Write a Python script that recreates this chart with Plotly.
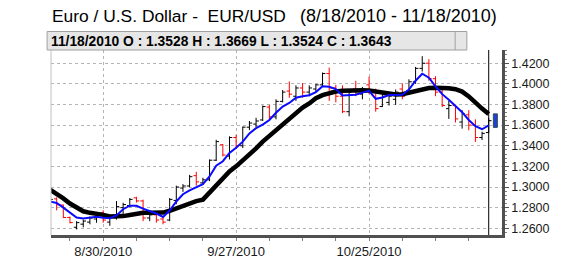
import plotly.graph_objects as go
from datetime import date

dates = [
    "2010-08-18", "2010-08-19", "2010-08-20", "2010-08-23", "2010-08-24", "2010-08-25", "2010-08-26", "2010-08-27",
    "2010-08-30", "2010-08-31", "2010-09-01", "2010-09-02", "2010-09-03", "2010-09-06", "2010-09-07", "2010-09-08",
    "2010-09-09", "2010-09-10", "2010-09-13", "2010-09-14", "2010-09-15", "2010-09-16", "2010-09-17", "2010-09-20",
    "2010-09-21", "2010-09-22", "2010-09-23", "2010-09-24", "2010-09-27", "2010-09-28", "2010-09-29", "2010-09-30",
    "2010-10-01", "2010-10-04", "2010-10-05", "2010-10-06", "2010-10-07", "2010-10-08", "2010-10-11", "2010-10-12",
    "2010-10-13", "2010-10-14", "2010-10-15", "2010-10-18", "2010-10-19", "2010-10-20", "2010-10-21", "2010-10-22",
    "2010-10-25", "2010-10-26", "2010-10-27", "2010-10-28", "2010-10-29", "2010-11-01", "2010-11-02", "2010-11-03",
    "2010-11-04", "2010-11-05", "2010-11-08", "2010-11-09", "2010-11-10", "2010-11-11", "2010-11-12", "2010-11-15",
    "2010-11-16", "2010-11-17", "2010-11-18",
]

opens = [
    1.2850, 1.2885, 1.2825, 1.2705, 1.2610, 1.2640, 1.2660, 1.2690, 1.2750, 1.2660,
    1.2700, 1.2800, 1.2820, 1.2895, 1.2865, 1.2700, 1.2730, 1.2690, 1.2680, 1.2870,
    1.2990, 1.3010, 1.3110, 1.3040, 1.3070, 1.3260, 1.3410, 1.3300, 1.3480, 1.3400,
    1.3580, 1.3610, 1.3650, 1.3775, 1.3680, 1.3830, 1.3930, 1.3880, 1.3960, 1.3920,
    1.3950, 1.3990, 1.4100, 1.3960, 1.3880, 1.3730, 1.3950, 1.3900, 1.3990, 1.3940,
    1.3780, 1.3820, 1.3850, 1.3950, 1.3930, 1.4020, 1.4150, 1.4200, 1.4050, 1.3920,
    1.3760, 1.3790, 1.3630, 1.3700, 1.3600, 1.3480, 1.3528,
]
highs = [
    1.2900, 1.2900, 1.2830, 1.2714, 1.2669, 1.2684, 1.2714, 1.2759, 1.2774, 1.2729,
    1.2864, 1.2848, 1.2893, 1.2905, 1.2878, 1.2759, 1.2744, 1.2714, 1.2893, 1.3013,
    1.3028, 1.3118, 1.3147, 1.3090, 1.3267, 1.3458, 1.3416, 1.3491, 1.3506, 1.3587,
    1.3640, 1.3671, 1.3790, 1.3796, 1.3850, 1.3940, 1.4023, 1.3985, 1.4008, 1.3985,
    1.3999, 1.4110, 1.4158, 1.3990, 1.3985, 1.3940, 1.4030, 1.3970, 1.4070, 1.3954,
    1.3909, 1.3900, 1.3945, 1.4005, 1.4044, 1.4164, 1.4268, 1.4239, 1.4074, 1.3940,
    1.3835, 1.3790, 1.3745, 1.3745, 1.3656, 1.3536, 1.3669,
]
lows = [
    1.2820, 1.2774, 1.2699, 1.2648, 1.2589, 1.2609, 1.2639, 1.2654, 1.2654, 1.2624,
    1.2684, 1.2729, 1.2804, 1.2850, 1.2669, 1.2669, 1.2654, 1.2639, 1.2669, 1.2833,
    1.2953, 1.2998, 1.3013, 1.3020, 1.3057, 1.3252, 1.3297, 1.3267, 1.3371, 1.3378,
    1.3551, 1.3581, 1.3640, 1.3656, 1.3656, 1.3820, 1.3865, 1.3835, 1.3865, 1.3880,
    1.3925, 1.3970, 1.3835, 1.3820, 1.3716, 1.3685, 1.3880, 1.3850, 1.3900, 1.3730,
    1.3775, 1.3790, 1.3796, 1.3850, 1.3925, 1.4000, 1.4119, 1.4030, 1.3880, 1.3775,
    1.3660, 1.3626, 1.3566, 1.3550, 1.3437, 1.3456, 1.3524,
]
closes = [
    1.2880, 1.2828, 1.2705, 1.2655, 1.2655, 1.2670, 1.2700, 1.2745, 1.2680, 1.2700,
    1.2810, 1.2830, 1.2880, 1.2865, 1.2700, 1.2730, 1.2680, 1.2660, 1.2880, 1.3000,
    1.3010, 1.3100, 1.3050, 1.3070, 1.3260, 1.3440, 1.3310, 1.3480, 1.3400, 1.3580,
    1.3620, 1.3640, 1.3780, 1.3680, 1.3830, 1.3920, 1.3900, 1.3960, 1.3920, 1.3960,
    1.3990, 1.4100, 1.3960, 1.3880, 1.3730, 1.3920, 1.3900, 1.3950, 1.3940, 1.3760,
    1.3880, 1.3880, 1.3920, 1.3880, 1.4020, 1.4150, 1.4200, 1.4050, 1.3920, 1.3790,
    1.3790, 1.3660, 1.3710, 1.3600, 1.3480, 1.3520, 1.3643,
]

ma_fast = [
    1.2860, 1.2845, 1.2800, 1.2755, 1.2705, 1.2695, 1.2700, 1.2712, 1.2702, 1.2698,
    1.2725, 1.2785, 1.2819, 1.2818, 1.2790, 1.2765, 1.2743, 1.2710, 1.2772, 1.2860,
    1.2930, 1.2968, 1.2998, 1.3028, 1.3102, 1.3207, 1.3250, 1.3330, 1.3380, 1.3440,
    1.3520, 1.3570, 1.3605, 1.3650, 1.3720, 1.3780, 1.3815, 1.3865, 1.3880, 1.3890,
    1.3920, 1.3976, 1.3972, 1.3950, 1.3888, 1.3890, 1.3895, 1.3915, 1.3932, 1.3855,
    1.3868, 1.3892, 1.3895, 1.3895, 1.3945, 1.4030, 1.4098, 1.4060, 1.3975, 1.3900,
    1.3845, 1.3785, 1.3725, 1.3650, 1.3590, 1.3560, 1.3598,
]
ma_slow = [
    1.2975, 1.2935, 1.2890, 1.2840, 1.2800, 1.2765, 1.2750, 1.2745, 1.2730, 1.2715,
    1.2712, 1.2718, 1.2728, 1.2740, 1.2750, 1.2750, 1.2750, 1.2752, 1.2770, 1.2795,
    1.2820, 1.2845, 1.2864, 1.2878, 1.2945, 1.3015, 1.3085, 1.3150, 1.3200, 1.3255,
    1.3310, 1.3375, 1.3440, 1.3495, 1.3550, 1.3610, 1.3670, 1.3720, 1.3770, 1.3810,
    1.3860, 1.3890, 1.3912, 1.3925, 1.3932, 1.3937, 1.3940, 1.3938, 1.3935, 1.3925,
    1.3910, 1.3902, 1.3896, 1.3900, 1.3915, 1.3935, 1.3952, 1.3960, 1.3963, 1.3962,
    1.3958, 1.3948, 1.3925, 1.3878, 1.3815, 1.3760, 1.3707,
]

label_dates = ["2010-08-30", "2010-09-27", "2010-10-25"]
label_text = ["8/30/2010", "9/27/2010", "10/25/2010"]
y_ticks = [1.26, 1.28, 1.30, 1.32, 1.34, 1.36, 1.38, 1.40, 1.42]

title_left = "Euro / U.S. Dollar -\u00a0 EUR/USD"
title_right = "(8/18/2010 - 11/18/2010)"
header = "11/18/2010 O : 1.3528 H : 1.3669 L : 1.3524 C : 1.3643"

FONT = "Liberation Sans, Arial, sans-serif"
W, H = 562, 271
L, R, T, B = 51, 49, 50, 21
PW, PH = W - L - R, H - T - B


def px(x):
    return (x - L) / PW


def py(y):
    return 1 + (T - y) / PH


x = list(range(len(dates)))
label_idx = [dates.index(d) for d in label_dates]
monday_idx = [i for i, d in enumerate(dates) if date.fromisoformat(d).weekday() == 0]
last = len(dates) - 1

fig = go.Figure()
fig.add_trace(go.Ohlc(
    x=x, open=opens, high=highs, low=lows, close=closes,
    increasing=dict(line=dict(color="#000000", width=1)),
    decreasing=dict(line=dict(color="#ff0000", width=1)),
    tickwidth=0.42, hoverinfo="skip",
))
fig.add_trace(go.Scatter(x=x, y=ma_slow, mode="lines",
                         line=dict(color="#000000", width=4.5), hoverinfo="skip"))
fig.add_trace(go.Scatter(x=x, y=ma_fast, mode="lines",
                         line=dict(color="#0a0aff", width=2), hoverinfo="skip"))

shapes = [
    # header bar
    dict(type="rect", xref="paper", yref="paper", x0=px(47), x1=px(477), y0=py(50), y1=py(30),
         fillcolor="#e6e6e6", line=dict(color="#a0a0a0", width=1), layer="above"),
    dict(type="line", xref="paper", yref="paper", x0=px(465), x1=px(465), y0=py(50), y1=py(30),
         line=dict(color="#a0a0a0", width=1)),
    # left border
    dict(type="line", xref="paper", yref="paper", x0=0, x1=0, y0=0, y1=1,
         line=dict(color="#c0c0c0", width=1)),
    # cursor line on the last bar
    dict(type="line", xref="x", yref="paper", x0=last, x1=last, y0=0, y1=1,
         line=dict(color="#000000", width=1), layer="below"),
    # marker beside the last bar, spanning the two averages
    dict(type="rect", xref="x", yref="y", x0=last + 0.7, x1=last + 1.3,
         y0=ma_fast[-1] - 0.002, y1=ma_slow[-1] + 0.0002,
         fillcolor="#1f3fd8", line=dict(color="#2f4f4f", width=1)),
]

annotations = [
    dict(text=title_left, xref="paper", yref="paper", x=px(49.5), y=py(13.5), xanchor="left",
         yanchor="middle", showarrow=False, font=dict(family=FONT, size=17.4, color="#000000")),
    dict(text=title_right, xref="paper", yref="paper", x=px(509.5), y=py(13.5), xanchor="right",
         yanchor="middle", showarrow=False, font=dict(family=FONT, size=18, color="#000000")),
    dict(text="<b>" + header + "</b>", xref="paper", yref="paper", x=px(48.5), y=py(40.5),
         xanchor="left", yanchor="middle", showarrow=False,
         font=dict(family=FONT, size=13.8, color="#000000")),
]

fig.update_layout(
    width=W, height=H, margin=dict(l=L, r=R, t=T, b=B, pad=0),
    paper_bgcolor="white", plot_bgcolor="white", showlegend=False,
    shapes=shapes, annotations=annotations,
    xaxis=dict(
        range=[0.147, 68.0], tickmode="array", tickvals=label_idx, ticktext=label_text,
        showgrid=True, gridcolor="#b4b4b4", griddash="dot", gridwidth=1,
        ticks="outside", ticklen=3, tickcolor="#808080",
        showline=True, linecolor="#505050", linewidth=2.5, zeroline=False,
        rangeslider=dict(visible=False),
        tickfont=dict(family=FONT, size=13, color="#1a1a1a"),
        minor=dict(tickmode="array", tickvals=monday_idx, ticks="outside", ticklen=3,
                   tickcolor="#808080", showgrid=False),
    ),
    yaxis=dict(
        side="right", range=[1.2535, 1.4328], tickmode="array", tickvals=y_ticks,
        tickformat=".4f", showgrid=True, gridcolor="#b4b4b4", griddash="dot", gridwidth=1,
        ticks="outside", ticklen=4, tickcolor="#505050",
        showline=True, linecolor="#505050", linewidth=2.5, zeroline=False,
        tickfont=dict(family=FONT, size=12.5, color="#1a1a1a"),
        minor=dict(dtick=0.004, tick0=1.26, ticks="outside", ticklen=2,
                   tickcolor="#808080", showgrid=False),
    ),
)

fig.write_html("out.html")
